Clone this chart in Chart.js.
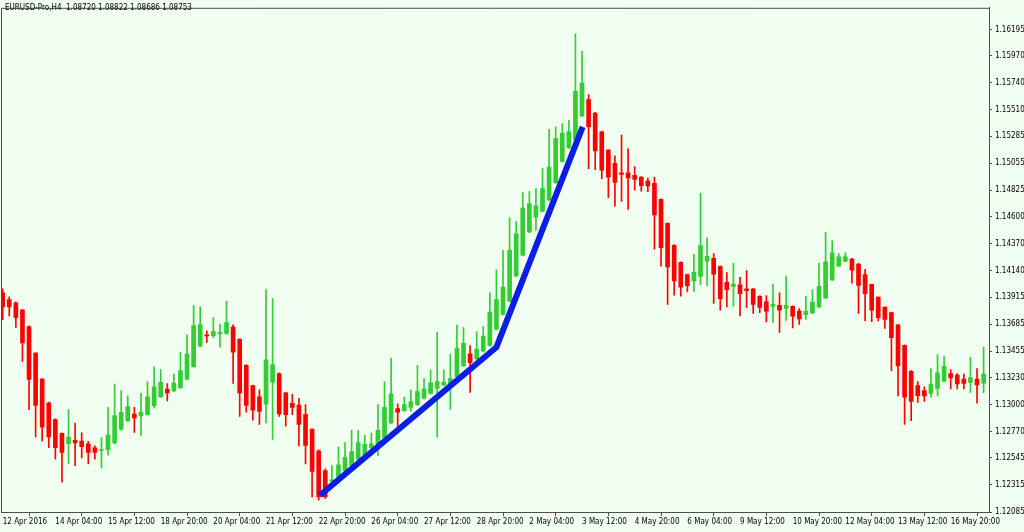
<!DOCTYPE html>
<html>
<head>
<meta charset="utf-8">
<script src="https://cdn.jsdelivr.net/npm/chart.js@4.4.1/dist/chart.umd.min.js"></script>
<style>
  html, body { margin: 0; padding: 0; background: #f0fff0; }
  #wrap { position: relative; width: 1024px; height: 532px; }
  #title { position: absolute; left: 5px; top: 3px; font: 8px "DejaVu Sans Condensed", "DejaVu Sans", sans-serif; color: #000; white-space: pre; }
</style>
</head>
<body>
<div id="wrap">
  <canvas id="chart" width="1024" height="532"></canvas>
  <div id="title">EURUSD-Pro,H4  1.08720 1.08822 1.08686 1.08753</div>
</div>
<script>
// EURUSD H4, one value per bar (bar 0 = 12 Apr 20:00)
const open = [
  1.13951,1.13895,1.13867,1.13805,1.13665,1.13438,1.13217,1.13015,1.12873,1.12755,
  1.12667,1.12696,1.12690,1.12665,1.12631,1.12609,1.12615,1.12673,1.12791,1.12863,
  1.12920,1.12903,1.12915,1.12990,1.13066,1.13133,1.13117,1.13144,1.13217,1.13323,
  1.13497,1.13595,1.13587,1.13604,1.13606,1.13661,1.13556,1.13335,1.13161,1.13066,
  1.13004,1.13192,1.13264,1.13100,1.13010,1.12995,1.12917,1.12789,1.12606,1.12438,
  1.12348,1.12382,1.12438,1.12480,1.12536,1.12564,1.12634,1.12662,1.12718,1.12844,
  1.12965,1.12948,1.12976,1.12999,1.13054,1.13096,1.13138,1.13167,1.13172,1.13237,
  1.13329,1.13432,1.13388,1.13455,1.13503,1.13643,1.13768,1.13881,1.14096,1.14273,
  1.14470,1.14596,1.14646,1.14743,1.14890,1.15071,1.15189,1.15254,1.15458,1.15598,
  1.15483,1.15323,1.15167,1.15055,1.14974,1.14974,1.14952,1.14937,1.14903,1.14884,
  1.14749,1.14545,1.14357,1.14211,1.14108,1.14054,1.14091,1.14222,1.14245,1.14178,
  1.14041,1.14007,1.14021,1.13985,1.13985,1.13923,1.13875,1.13836,1.13846,1.13819,
  1.13836,1.13796,1.13766,1.13780,1.13831,1.13909,1.14063,1.14180,1.14222,1.14239,
  1.14196,1.14108,1.14024,1.13915,1.13831,1.13783,1.13679,1.13505,1.13284,1.13161,
  1.13119,1.13096,1.13138,1.13200,1.13264,1.13251,1.13217,1.13189,1.13217,1.13183
];
const high = [
  1.13985,1.13917,1.13875,1.13812,1.13671,1.13442,1.13222,1.13021,1.12878,1.12760,
  1.12957,1.12842,1.12760,1.12688,1.12648,1.12718,1.12976,1.13175,1.13119,1.13074,
  1.12976,1.13096,1.13195,1.13321,1.13301,1.13178,1.13259,1.13447,1.13595,1.13844,
  1.13833,1.13629,1.13741,1.13685,1.13881,1.13679,1.13562,1.13340,1.13167,1.13125,
  1.13979,1.13903,1.13270,1.13104,1.13088,1.13054,1.12999,1.12795,1.12615,1.12452,
  1.12480,1.12637,1.12676,1.12780,1.12780,1.12739,1.12757,1.12999,1.13195,1.13396,
  1.13007,1.13063,1.13125,1.13335,1.13222,1.13293,1.13615,1.13293,1.13430,1.13678,
  1.13657,1.13503,1.13621,1.13664,1.13951,1.14147,1.14315,1.14590,1.14562,1.14806,
  1.14814,1.14839,1.15010,1.15344,1.15366,1.15394,1.15422,1.16159,1.16010,1.15641,
  1.15489,1.15329,1.15172,1.15119,1.15296,1.15178,1.15027,1.14943,1.14930,1.14937,
  1.14753,1.14548,1.14363,1.14216,1.14111,1.14279,1.14800,1.14421,1.14287,1.14182,
  1.14124,1.14203,1.14085,1.14142,1.13989,1.13928,1.13928,1.14027,1.13951,1.14094,
  1.13842,1.13818,1.13923,1.13979,1.14203,1.14470,1.14394,1.14287,1.14293,1.14245,
  1.14203,1.14152,1.14027,1.13917,1.13833,1.13787,1.13682,1.13510,1.13289,1.13195,
  1.13152,1.13306,1.13424,1.13413,1.13298,1.13264,1.13259,1.13402,1.13306,1.13489
];
const low = [
  1.13724,1.13755,1.13657,1.13368,1.12957,1.12724,1.12690,1.12634,1.12536,1.12340,
  1.12494,1.12480,1.12545,1.12494,1.12536,1.12461,1.12570,1.12665,1.12783,1.12854,
  1.12763,1.12738,1.12909,1.12970,1.13060,1.13032,1.13110,1.13136,1.13211,1.13316,
  1.13489,1.13530,1.13570,1.13489,1.13598,1.13180,1.12900,1.12936,1.12867,1.12831,
  1.12844,1.12704,1.12900,1.12816,1.12915,1.12648,1.12494,1.12214,1.12186,1.12200,
  1.12340,1.12379,1.12434,1.12472,1.12522,1.12556,1.12564,1.12564,1.12711,1.12837,
  1.12816,1.12942,1.12942,1.12993,1.13047,1.13089,1.12724,1.13161,1.12959,1.13232,
  1.13325,1.13104,1.13384,1.13447,1.13497,1.13636,1.13762,1.13875,1.14090,1.14266,
  1.14464,1.14483,1.14641,1.14737,1.14884,1.15065,1.15182,1.15249,1.15452,1.15010,
  1.15002,1.14924,1.14763,1.14691,1.14730,1.14663,1.14827,1.14819,1.14814,1.14324,
  1.14180,1.13853,1.13932,1.13923,1.13959,1.13965,1.14021,1.14012,1.13861,1.13805,
  1.13833,1.13839,1.13755,1.13825,1.13777,1.13783,1.13705,1.13699,1.13615,1.13718,
  1.13654,1.13682,1.13726,1.13774,1.13825,1.13903,1.14056,1.14174,1.14216,1.14035,
  1.13777,1.13713,1.13707,1.13713,1.13648,1.13289,1.13074,1.12831,1.12864,1.13018,
  1.13026,1.13063,1.13074,1.13195,1.13133,1.13133,1.13133,1.13104,1.13012,1.13102
];
const close = [
  1.13833,1.13831,1.13741,1.13525,1.13214,1.12993,1.12808,1.12724,1.12634,1.12592,
  1.12724,1.12673,1.12642,1.12592,1.12592,1.12615,1.12741,1.12906,1.12934,1.12982,
  1.12886,1.12934,1.13066,1.13152,1.13189,1.13100,1.13183,1.13289,1.13430,1.13674,
  1.13682,1.13584,1.13621,1.13612,1.13699,1.13447,1.13100,1.12993,1.12953,1.12942,
  1.13382,1.13340,1.12920,1.12915,1.12976,1.12831,1.12652,1.12431,1.12214,1.12214,
  1.12360,1.12486,1.12550,1.12600,1.12676,1.12662,1.12665,1.12781,1.12976,1.13091,
  1.12936,1.13001,1.13026,1.13110,1.13133,1.13186,1.13195,1.13192,1.13222,1.13480,
  1.13522,1.13357,1.13472,1.13584,1.13789,1.13895,1.14001,1.14315,1.14455,1.14674,
  1.14713,1.14693,1.14839,1.15024,1.15268,1.15310,1.15323,1.15668,1.15739,1.15366,
  1.15161,1.14996,1.14937,1.14892,1.14960,1.14930,1.14919,1.14864,1.14862,1.14615,
  1.14337,1.14172,1.14054,1.14001,1.14012,1.14127,1.14354,1.14262,1.14111,1.13903,
  1.13979,1.14027,1.13945,1.13970,1.13853,1.13827,1.13796,1.13853,1.13805,1.13846,
  1.13753,1.13730,1.13796,1.13873,1.14007,1.14217,1.14293,1.14259,1.14259,1.14144,
  1.14016,1.13945,1.13805,1.13741,1.13726,1.13570,1.13329,1.13063,1.13026,1.13077,
  1.13074,1.13175,1.13270,1.13326,1.13228,1.13175,1.13180,1.13231,1.13167,1.13259
];

// time axis labels, one every 8 bars
const xTickBars = [0, 8, 16, 24, 32, 40, 48, 56, 64, 72, 80, 88, 96, 104, 112, 120, 128, 136, 144];
const xTickLabels = ['12 Apr 2016', '14 Apr 04:00', '15 Apr 12:00', '18 Apr 20:00', '20 Apr 04:00',
  '21 Apr 12:00', '22 Apr 20:00', '26 Apr 04:00', '27 Apr 12:00', '28 Apr 20:00', '2 May 04:00',
  '3 May 12:00', '4 May 20:00', '6 May 04:00', '9 May 12:00', '10 May 20:00', '12 May 04:00',
  '13 May 12:00', '16 May 20:00'];

const yTicks = [1.12085, 1.12315, 1.12545, 1.12770, 1.13000, 1.13230, 1.13455, 1.13685, 1.13915,
  1.14140, 1.14370, 1.14600, 1.14825, 1.15055, 1.15285, 1.15510, 1.15740, 1.15970, 1.16195];

// hand drawn trend line
const trendBar = [48.2, 75, 88.1];
const trendPrice = [1.12228, 1.13489, 1.15366];

const GREEN = '#32cd32';
const RED = '#ff0000';
const BLUE = '#0a1ee6';
const FRAME = '#4d4d4d';
const BG = '#f0fff0';

let candleColor = close.map((c, i) => c > open[i] ? GREEN : RED);
let bodies = open.map((o, i) => ({x: i, y: [o, close[i]]}));
let wicks = low.map((l, i) => ({x: i, y: [l, high[i]]}));
let trend = trendBar.map((b, i) => ({x: b, y: trendPrice[i]}));

const framePlugin = {
  id: 'frame',
  beforeDraw(chart) {
    const ctx = chart.ctx;
    ctx.save();
    ctx.fillStyle = BG;
    ctx.fillRect(0, 0, chart.width, chart.height);
    ctx.restore();
  },
  afterDraw(chart) {
    const ctx = chart.ctx;
    const a = chart.chartArea;
    ctx.save();
    ctx.strokeStyle = FRAME;
    ctx.lineWidth = 1;
    ctx.beginPath();
    ctx.moveTo(a.left + 0.5, a.bottom);
    ctx.lineTo(a.left + 0.5, a.top + 0.5);
    ctx.lineTo(a.right, a.top + 0.5);
    ctx.stroke();
    ctx.restore();
  }
};

Chart.defaults.font.family = '"DejaVu Sans Condensed", "DejaVu Sans", sans-serif';
Chart.defaults.font.size = 8;
Chart.defaults.color = '#000';

new Chart(document.getElementById('chart').getContext('2d'), {
  type: 'bar',
  data: {
    datasets: [
      {
        type: 'line',
        data: trend,
        borderColor: BLUE,
        borderWidth: 6,
        pointRadius: 0,
        tension: 0,
        order: 0
      },
      {
        data: bodies,
        backgroundColor: candleColor,
        barThickness: 4,
        minBarLength: 1,
        grouped: false,
        order: 1
      },
      {
        data: wicks,
        backgroundColor: candleColor,
        barThickness: 1,
        grouped: false,
        order: 2
      }
    ]
  },
  options: {
    responsive: false,
    animation: false,
    devicePixelRatio: 1,
    events: [],
    layout: { padding: { left: 1, top: 1, right: 0, bottom: 0 } },
    plugins: {
      legend: { display: false },
      tooltip: { enabled: false }
    },
    scales: {
      x: {
        type: 'linear',
        min: -0.258,
        max: 149.82,
        offset: false,
        afterBuildTicks: s => { s.ticks = xTickBars.map(v => ({value: v})); },
        afterFit: s => { s.height = 20; },
        grid: { drawOnChartArea: false, color: FRAME, tickLength: 4 },
        border: { color: FRAME },
        ticks: {
          align: 'start',
          autoSkip: false,
          maxRotation: 0,
          padding: 1,
          callback: (v, i) => xTickLabels[i]
        }
      },
      y: {
        position: 'right',
        min: 1.12085,
        max: 1.16380,
        afterBuildTicks: s => { s.ticks = yTicks.map(v => ({value: v})); },
        afterFit: s => { s.width = 35; },
        grid: { drawOnChartArea: false, color: FRAME, tickLength: 3 },
        border: { color: FRAME },
        ticks: {
          padding: 3,
          callback: v => v.toFixed(5)
        }
      }
    }
  },
  plugins: [framePlugin]
});
</script>
</body>
</html>
